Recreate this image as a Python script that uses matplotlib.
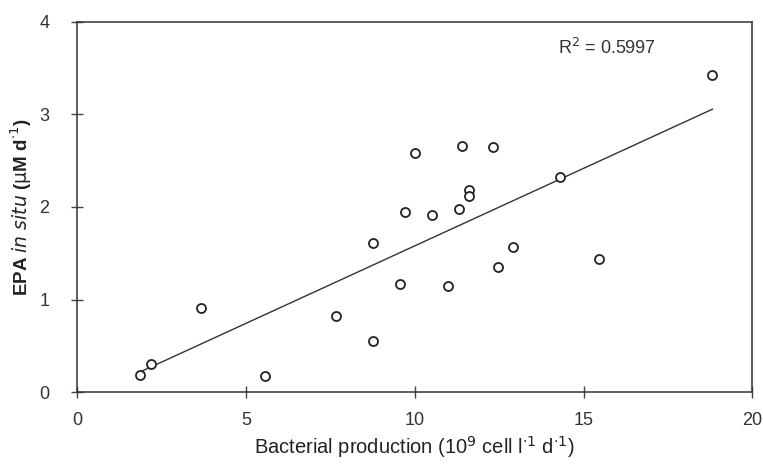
import numpy as np
import matplotlib
matplotlib.use('Agg')
import matplotlib.pyplot as plt

plt.rcParams['font.family'] = ['Liberation Sans', 'DejaVu Sans']

# Bacterial production (10^9 cell l-1 d-1) vs EPA in situ (uM d-1)
bact_prod = [1.87, 2.18, 3.66, 5.58, 7.67, 8.78, 8.78, 9.57, 10.98, 12.48, 12.90,
             15.47, 18.82, 10.01, 11.40, 12.31, 14.31, 11.61, 11.61, 9.72, 10.51, 11.32]
epa = [0.19, 0.31, 0.91, 0.18, 0.82, 0.55, 1.61, 1.17, 1.15, 1.35, 1.57,
       1.44, 3.42, 2.58, 2.66, 2.65, 2.32, 2.18, 2.12, 1.95, 1.91, 1.98]
r2_label = 'R$^2$ = 0.5997'
x_ticks = [0, 5, 10, 15, 20]
y_ticks = [0, 1, 2, 3, 4]

x = np.array(bact_prod)
y = np.array(epa)
slope, intercept = np.polyfit(x, y, 1)
xl = np.array([x.min(), x.max()])

fig = plt.figure(figsize=(7.63, 4.67), dpi=100)
ax = fig.add_axes([0.101, 0.16, 0.885, 0.7935])

ax.plot(xl, slope * xl + intercept, color='#333333', lw=1.0, zorder=2)
ax.plot(x, y, 'o', mfc='white', mec='#222222', mew=1.3, ms=6.5, zorder=3)

ax.set_xlim(0, 20)
ax.set_ylim(0, 4)
ax.set_xticks(x_ticks)
ax.set_yticks(y_ticks)
ax.tick_params(direction='inout', length=8, width=1, colors='#444444',
               labelsize=13, labelcolor='#333333')
ax.tick_params(axis='x', pad=10)
ax.tick_params(axis='y', pad=16)
for s in ax.spines.values():
    s.set_color('#333333')
    s.set_linewidth(1.1)

ax.text(14.25, 3.72, r2_label, fontsize=13, color='#333333', va='center')

ax.set_xlabel('Bacterial production (10$^9$ cell l$^{\\cdot1}$ d$^{\\cdot1}$)',
              fontsize=14.5, color='#222222', labelpad=4)
ax.set_ylabel('EPA $\\it{in\\ situ}$ ($\\mathrm{\\mu}$M d$^{\\cdot1}$)',
              fontsize=13.5, color='#222222', fontweight='bold', labelpad=4)

fig.savefig('out.png', dpi=100)
